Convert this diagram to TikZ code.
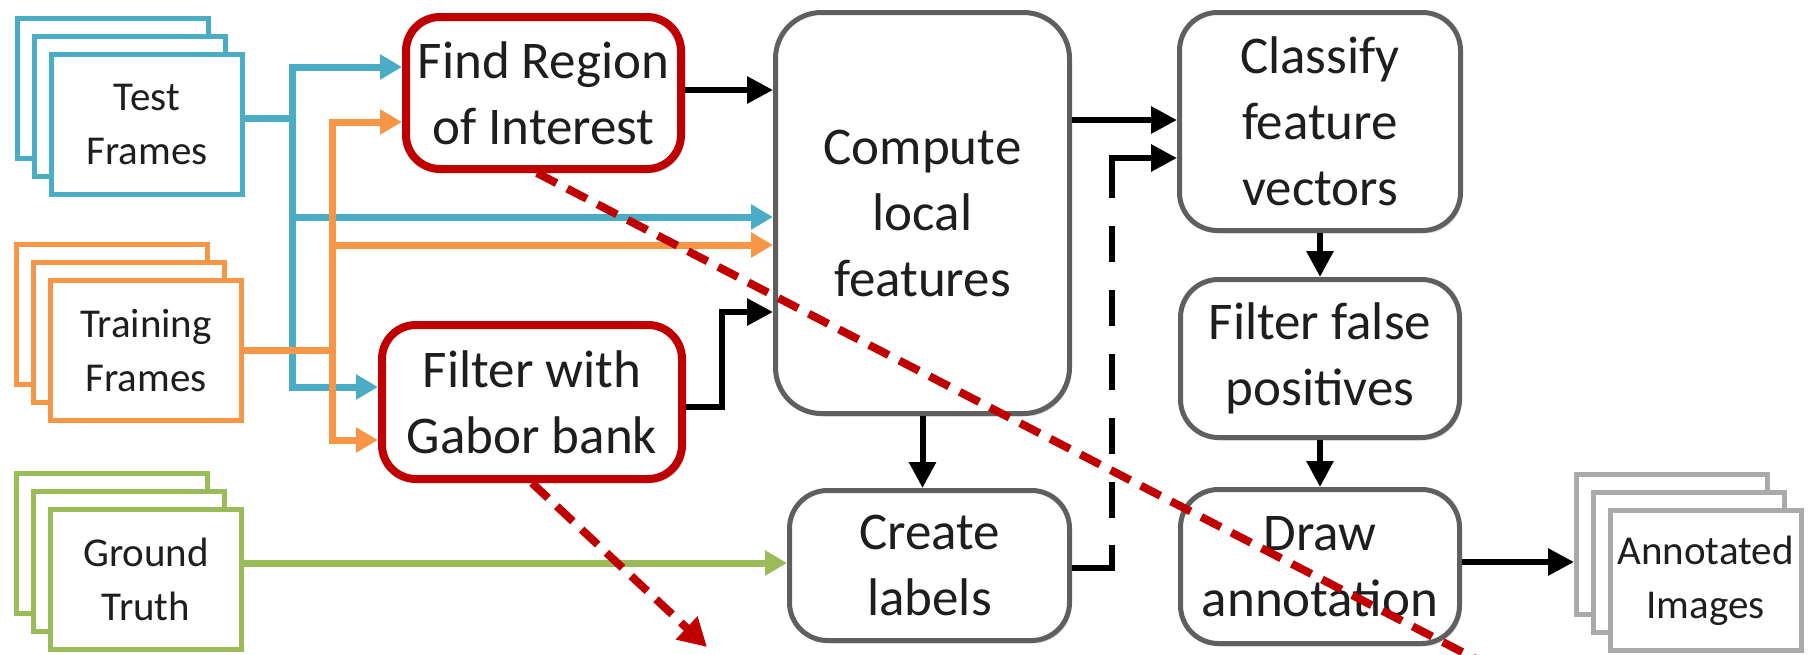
\documentclass[tikz,border=0pt]{standalone}
\usepackage{fontspec}
\setmainfont{Carlito}
\usetikzlibrary{arrows.meta,shadows}
\definecolor{blueC}{RGB}{75,172,198}
\definecolor{orangeC}{RGB}{247,150,70}
\definecolor{greenC}{RGB}{155,187,89}
\definecolor{roiRed}{RGB}{192,0,0}
\definecolor{boxGrey}{RGB}{95,95,95}
\definecolor{annoGrey}{RGB}{170,170,170}
\definecolor{textC}{RGB}{30,30,30}
\newcommand\mainfs{\fontsize{53}{66}\selectfont}
\newcommand\sidefs{\fontsize{41}{54}\selectfont}
\tikzset{
  proc/.style={draw=boxGrey, line width=5pt, rounded corners=38pt, fill=white,
    align=center, font=\mainfs, text=textC, inner sep=0pt,
    drop shadow={shadow xshift=2pt, shadow yshift=-3pt, opacity=0.25}},
  roi/.style={proc, draw=roiRed, line width=8pt, rounded corners=34pt,
    drop shadow={shadow xshift=3pt, shadow yshift=-4pt, opacity=0.35}},
  sheet/.style={draw, line width=5pt, fill=white, minimum width=191pt,
    minimum height=140pt, inner sep=0pt, align=center, font=\sidefs, text=textC},
  tipS/.style={-{Triangle[length=22pt,width=24pt]}},
  tipB/.style={-{Triangle[length=26pt,width=26pt]}},
  bluel/.style={draw=blueC, line width=7pt},
  orangel/.style={draw=orangeC, line width=7pt},
  greenl/.style={draw=greenC, line width=7pt, tipS},
  blk/.style={draw=black, line width=6pt, tipB},
  reddash/.style={draw=roiRed, line width=8pt, dash pattern=on 22pt off 12pt}
}
\begin{document}
\begin{tikzpicture}[x=1pt,y=-1pt]
\useasboundingbox (0,0) rectangle (1810,654);
\clip (0,0) rectangle (1810,654);
\fill[white] (0,0) rectangle (1810,654);

% input stacks
\node[sheet, draw=blueC] (test3) at (113,88.5) {};
\node[sheet, draw=blueC] (test2) at (130,106.5) {};
\node[sheet, draw=blueC] (test) at (147,124.5) {Test\\Frames};

\node[sheet, draw=orangeC] (training3) at (112,314.5) {};
\node[sheet, draw=orangeC] (training2) at (129,332.5) {};
\node[sheet, draw=orangeC] (training) at (146,350.5) {Training\\Frames};

\node[sheet, draw=greenC] (ground3) at (112,543.5) {};
\node[sheet, draw=greenC] (ground2) at (129,561.5) {};
\node[sheet, draw=greenC] (ground) at (146,579.5) {Ground\\Truth};

% output stack
\node[sheet, draw=annoGrey] (anno3) at (1672,544.5) {};
\node[sheet, draw=annoGrey] (anno2) at (1689,562.5) {};
\node[sheet, draw=annoGrey] (anno) at (1705.5,580.5) {Annotated\\Images};

% process boxes
\node[roi, minimum width=275pt, minimum height=152pt] (find) at (543.5,93) {Find Region\\of Interest};
\node[roi, minimum width=300pt, minimum height=154pt] (gabor) at (532,402) {Filter with\\Gabor bank};
\node[proc, rounded corners=46pt, minimum width=294pt, minimum height=401pt] (compute) at (922.5,213) {Compute\\local\\features};
\node[proc, minimum width=280pt, minimum height=150pt] (create) at (929.5,565.5) {Create\\labels};
\node[proc, minimum width=281pt, minimum height=218pt] (classify) at (1320,121.5) {Classify\\feature\\vectors};
\node[proc, minimum width=279pt, minimum height=158pt] (filterfp) at (1320,358.5) {Filter false\\positives};
\node[proc, minimum width=279pt, minimum height=154pt] (drawann) at (1320,566.5) {Draw\\annotation};

% blue connectors
\draw[bluel] ([yshift=6pt]test.east) -- (292,118.5);
\draw[bluel, {Triangle[length=22pt,width=24pt]}-{Triangle[length=22pt,width=24pt]}]
  (find.west |- 0,67) -- (292,67) -- (292,387) -- (gabor.west |- 0,387);
\draw[bluel, tipS] (292,217) -- (compute.west |- 0,217);

% orange connectors
\draw[orangel] (training.east) -- (332,350.5);
\draw[orangel, {Triangle[length=22pt,width=24pt]}-{Triangle[length=22pt,width=24pt]}]
  (find.west |- 0,122) -- (332,122) -- (332,440) -- (gabor.west |- 0,440);
\draw[orangel, tipS] (332,245) -- (compute.west |- 0,245);

% green connector
\draw[greenl] (ground.east |- 0,563) -- (create.west |- 0,563);

% black connectors
\draw[blk] (find.east |- 0,90) -- (compute.west |- 0,90);
\draw[blk] (gabor.east |- 0,407) -- (722,407) -- (722,312) -- (compute.west |- 0,312);
\draw[blk] (compute.east |- 0,120) -- (classify.west |- 0,120);
\draw[blk] (compute.south) -- (compute.south |- create.north);
\draw[blk] (classify.south) -- (filterfp.north);
\draw[blk] (filterfp.south) -- (drawann.north);
\draw[blk] (drawann.east |- 0,562) -- (anno3.west |- 0,562);
\draw[blk, dash pattern=on 63pt off 27pt on 36pt off 28pt on 36pt off 28pt on 36pt off 28pt on 36pt off 28pt on 36pt off 28pt on 300pt]
  (create.east |- 0,568) -- (1112,568) -- (1112,158) -- (classify.west |- 0,158);

% red dashed pointers
\coordinate (farend) at (1520,682);
\draw[reddash] (find.south -| 537,0) -- (farend);
\draw[reddash, -{Triangle[length=28pt,width=30pt]}] (gabor.south -| 532,0) -- (707,647);
\end{tikzpicture}
\end{document}
